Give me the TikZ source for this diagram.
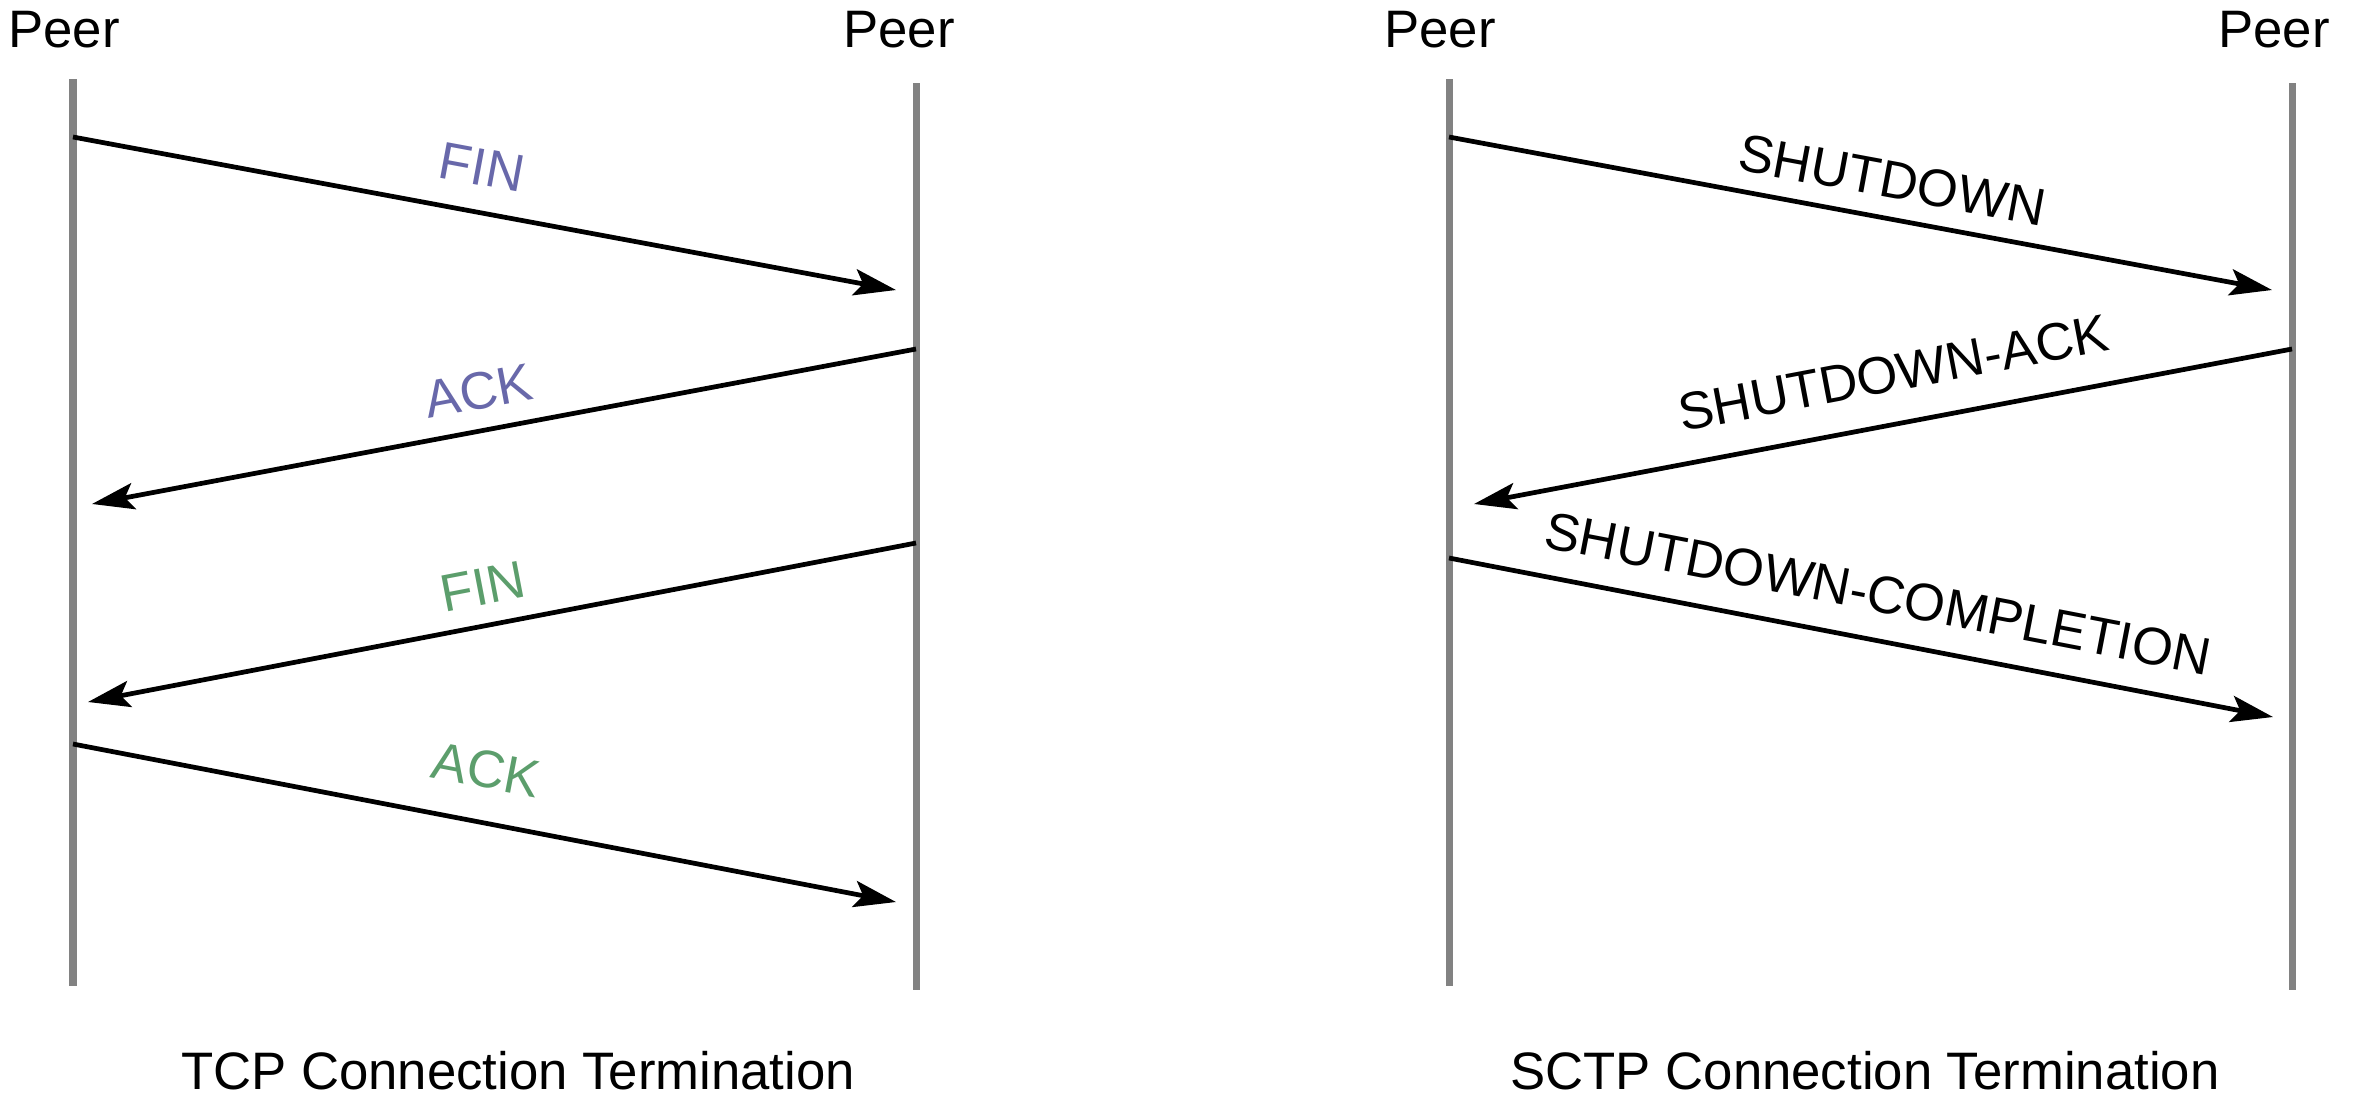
\documentclass[tikz,border=0pt]{standalone}
\usepackage{fontspec}
\setmainfont{Liberation Sans}
\usetikzlibrary{arrows.meta}

\definecolor{azul}{RGB}{104,104,170}
\definecolor{verde}{RGB}{92,158,108}
\definecolor{gris}{RGB}{130,130,130}

\tikzset{
  vida/.style={draw=gris, line width=2pt},
  msg/.style={-{Stealth[length=12pt,width=7.5pt,inset=2.5pt]}, line width=1.35pt},
  txt/.style={font=\fontsize{15}{18}\selectfont, inner sep=0pt},
  etq/.style={sloped, above, font=\fontsize{15}{18}\selectfont, inner sep=#1},
  etq/.default=6pt
}

\begin{document}
\begin{tikzpicture}[x=0.1mm, y=-0.1mm]
    \useasboundingbox (0,0) rectangle (2380,1116);

    % Lineas de vida TCP
    \coordinate (ta1) at (73,79);   \coordinate (ta2) at (73,986);
    \coordinate (tb1) at (916,83);  \coordinate (tb2) at (916,990);
    \draw[vida] (ta1) -- (ta2);
    \draw[vida] (tb1) -- (tb2);
    \node[txt, anchor=base] (peerTA) at (64,47) {Peer};
    \node[txt, anchor=base] (peerTB) at (899,47) {Peer};

    % Lineas de vida SCTP
    \coordinate (sa1) at (1449,79); \coordinate (sa2) at (1449,986);
    \coordinate (sb1) at (2292,83); \coordinate (sb2) at (2292,990);
    \draw[vida] (sa1) -- (sa2);
    \draw[vida] (sb1) -- (sb2);
    \node[txt, anchor=base] (peerSA) at (1440,47) {Peer};
    \node[txt, anchor=base] (peerSB) at (2274,47) {Peer};

    % Mensajes TCP
    \coordinate (m1s) at (73,137);  \coordinate (m1e) at (896,290);
    \coordinate (m2s) at (916,349); \coordinate (m2e) at (92,504);
    \coordinate (m3s) at (916,543); \coordinate (m3e) at (88,702);
    \coordinate (m4s) at (73,744);  \coordinate (m4e) at (896,902);
    \draw[msg] (m1s) -- (m1e) node[etq=7pt, pos=0.487, text=azul] (finA) {FIN};
    \draw[msg] (m2s) -- (m2e) node[etq=5.3pt, pos=0.522, text=azul] (ackA) {ACK};
    \draw[msg] (m3s) -- (m3e) node[etq=5.3pt, pos=0.514, text=verde] (finB) {FIN};
    \draw[msg] (m4s) -- (m4e) node[etq=9pt, pos=0.49, text=verde] (ackB) {ACK};

    % Mensajes SCTP
    \coordinate (n1s) at (1449,137); \coordinate (n1e) at (2272,290);
    \coordinate (n2s) at (2292,349); \coordinate (n2e) at (1474,504);
    \coordinate (n3s) at (1449,558); \coordinate (n3e) at (2273,717);
    \draw[msg] (n1s) -- (n1e) node[etq=5pt, pos=0.53] (shut) {SHUTDOWN};
    \draw[msg] (n2s) -- (n2e) node[etq=8.4pt, pos=0.476] (shutack) {SHUTDOWN-ACK};
    \draw[msg] (n3s) -- (n3e) node[etq=7.2pt, pos=0.51] (shutcomp) {SHUTDOWN-COMPLETION};

    % Titulos
    \node[txt, anchor=base] (capTCP) at (518,1089) {TCP Connection Termination};
    \node[txt, anchor=base] (capSCTP) at (1865,1089) {SCTP Connection Termination};
\end{tikzpicture}
\end{document}
